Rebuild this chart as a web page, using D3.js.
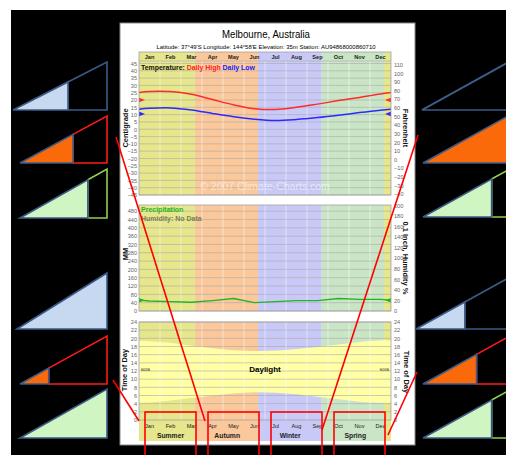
<!DOCTYPE html>
<html><head><meta charset="utf-8">
<script src="https://cdn.jsdelivr.net/npm/d3@7/dist/d3.min.js"></script>
<style>body{margin:0;background:#fff}svg{display:block;font-family:"Liberation Sans",Arial,sans-serif}</style>
</head><body>
<svg id="c" width="506" height="455"></svg>
<script>
// ---------------- data ----------------
const months = ["Jan","Feb","Mar","Apr","May","Jun","Jul","Aug","Sep","Oct","Nov","Dec"];
const seasonNames = ["Summer","Autumn","Winter","Spring","Summer"];
const seasonStart = [0, 2.67, 5.67, 8.7, 11.67];   // in months
const seasonEnd   = [2.67, 5.67, 8.7, 11.67, 12];
const seasonLabelAt = [1.5, 4.2, 7.2, 10.3];
const dailyHigh = [25.9, 25.8, 23.9, 20.3, 16.7, 14.1, 13.5, 15.0, 17.2, 19.6, 21.8, 24.2];
const dailyLow  = [14.3, 14.6, 13.2, 10.8, 8.6, 6.9, 6.0, 6.7, 8.0, 9.6, 11.4, 13.0];
const meanHighLow = [20.0, 10.5];
const precipMM = [48, 45, 42, 50, 60, 40, 45, 50, 50, 60, 56, 56];
const meanPrecip = [52];
const sunrise = [4.3, 4.8, 5.4, 6.0, 6.5, 6.8, 6.7, 6.3, 5.7, 5.1, 4.5, 4.2];
const sunset  = [19.3, 18.9, 18.2, 17.6, 17.1, 16.9, 17.0, 17.4, 17.9, 18.5, 19.1, 19.5];
const ticksC  = d3.range(-45, 50, 5);
const ticksF  = d3.range(-40, 120, 10);
const ticksMM = d3.range(0, 520, 40);
const ticksIn = d3.range(0, 220, 20);
const ticksHr = d3.range(0, 26, 2);
// side triangles: fill fraction of width
const leftFrac  = [0.585, 0.61, 0.78, 1, 0.33, 1];
const rightFrac = [0, 1, 0.73, 0.52, 0.57, 0.73];
const triFill = ["#c6d9f1","#fa6a0a","#cff5c2","#c6d9f1","#fa6a0a","#cff5c2"];
const triRest = ["#3b5b86","#ff1a1a","#92d050","#3b5b86","#ff1a1a","#92d050"];

// ---------------- layout ----------------
const svg = d3.select("#c");
const seasonColor = ["#e6e68c","#fbc89b","#c9c9f8","#c9e5c6","#e6e68c"];
const X0 = 139, X1 = 391;
const x = d3.scaleLinear().domain([0, 12]).range([X0, X1]);
const P1 = {top: 52, head: 61, bottom: 195};
const P2 = {top: 205, bottom: 311};
const P3 = {top: 322, bottom: 420, band: 441};
const yT = d3.scaleLinear().domain([-45, 45]).range([P1.bottom, 63.5]);
const yF = d3.scaleLinear().domain([-40, 113]).range([P1.bottom - 1, 62]);
const yP = d3.scaleLinear().domain([0, 500]).range([P2.bottom, P2.bottom - 104]);
const yI = d3.scaleLinear().domain([0, 200]).range([P2.bottom, P2.bottom - 104 * 508 / 500]);
const yD = d3.scaleLinear().domain([0, 24]).range([P3.bottom, P3.top]);

svg.append("rect").attr("x", 11).attr("y", 10).attr("width", 495).attr("height", 445).attr("fill", "#000");
svg.append("rect").attr("x", 120).attr("y", 23).attr("width", 295).attr("height", 422)
   .attr("fill", "#fff").attr("stroke", "#8a8a8a").attr("stroke-width", 1);

// side triangles
function tri(g, x0, yBase, w, h, frac, fill, rest) {
  const yAt = xx => yBase - h * (xx - x0) / w;
  const xf = x0 + w * frac;
  if (frac < 1) {
    g.append("polygon").attr("points", [[xf, yAt(xf)], [x0 + w, yBase - h], [x0 + w, yBase], [xf, yBase]].join(" "))
      .attr("fill", "none").attr("stroke", rest).attr("stroke-width", 1.6);
  }
  if (frac > 0) {
    g.append("polygon").attr("points", [[x0, yBase], [xf, yAt(xf)], [xf, yBase]].join(" "))
      .attr("fill", fill).attr("stroke", "#3b5b86").attr("stroke-width", 1.6);
  } else {
    g.append("polyline").attr("points", [[x0, yBase], [x0 + w, yBase - h]].join(" ") + " " + [x0, yBase].join(","))
      .attr("fill", "none").attr("stroke", "#3b5b86").attr("stroke-width", 1.6);
  }
}
const triG = svg.append("g");
const leftBase = [110, 163, 218, 329, 384, 438];
const leftX0 = [13, 20, 20, 17, 20, 20];
const leftH = [48, 47, 49, 56, 48, 49];
leftFrac.forEach((f, i) => tri(triG, leftX0[i], leftBase[i], 107 - leftX0[i], leftH[i], f, triFill[i], triRest[i]));
const rightBase = [110, 163, 217, 329, 384, 438];
const rightX0 = [422, 423, 423, 416, 423, 423];
const rg = triG.append("g").attr("clip-path", "url(#clipAll)");
svg.append("clipPath").attr("id", "clipAll").append("rect").attr("x", 0).attr("y", 0).attr("width", 506).attr("height", 455);
rightFrac.forEach((f, i) => tri(rg, rightX0[i], rightBase[i], 94, 52, f, triFill[i], triRest[i]));

// title
svg.append("text").attr("x", 266).attr("y", 38).attr("text-anchor", "middle").attr("font-size", 10.5)
   .attr("textLength", 88).attr("lengthAdjust", "spacingAndGlyphs").text("Melbourne,  Australia");
svg.append("text").attr("x", 266).attr("y", 48.5).attr("text-anchor", "middle").attr("font-size", 5.6)
   .attr("textLength", 219).attr("lengthAdjust", "spacingAndGlyphs")
   .text("Latitude: 37°49'S    Longitude: 144°58'E    Elevation: 35m    Station: AU94868000860710");

// helper: panel background
function panel(id, y0, y1) {
  const g = svg.append("g");
  svg.append("clipPath").attr("id", id).append("rect").attr("x", X0).attr("y", y0).attr("width", X1 - X0).attr("height", y1 - y0);
  seasonNames.forEach((s, i) => {
    g.append("rect").attr("x", x(seasonStart[i])).attr("y", y0).attr("width", x(seasonEnd[i]) - x(seasonStart[i]))
      .attr("height", y1 - y0).attr("fill", seasonColor[i]);
  });
  return g;
}
function grid(g, scale, ticks, y0, y1) {
  g.selectAll(null).data(ticks).enter().append("line")
    .attr("x1", X0).attr("x2", X1).attr("y1", d => scale(d)).attr("y2", d => scale(d))
    .attr("stroke", "#a8a8a8").attr("stroke-width", 0.6);
  g.selectAll(null).data(d3.range(1, 12)).enter().append("line")
    .attr("x1", d => x(d)).attr("x2", d => x(d)).attr("y1", y0).attr("y2", y1)
    .attr("stroke", "#ffffff").attr("stroke-opacity", 0.45).attr("stroke-width", 1);
}
function border(y0, y1) {
  svg.append("rect").attr("x", X0).attr("y", y0).attr("width", X1 - X0).attr("height", y1 - y0)
    .attr("fill", "none").attr("stroke", "#a0a0a0").attr("stroke-width", 0.8);
}
function axisLabels(scale, ticks, side, fmt) {
  const ax = (side === "left" ? d3.axisLeft(scale) : d3.axisRight(scale)).tickValues(ticks).tickSize(0).tickPadding(0)
    .tickFormat(fmt || (d => String(d).replace("-", "\u2212")));
  const g = svg.append("g").attr("transform", `translate(${side === "left" ? 137 : 394},0)`).call(ax);
  g.select(".domain").remove();
  g.selectAll("text").attr("font-size", 5.6).attr("fill", "#666").attr("font-family", "Liberation Sans, Arial");
}
function vTitle(text, xx, yy, rot) {
  svg.append("text").attr("transform", `translate(${xx},${yy}) rotate(${rot})`).attr("text-anchor", "middle")
    .attr("font-size", 7.5).attr("font-weight", "bold").attr("fill", "#111").text(text);
}
const wrapIdx = d3.range(-1, 13);
const wrap = arr => wrapIdx.map(i => ({m: i + 0.5, v: arr[(i + 12) % 12]}));

// ---------- Panel 1: temperature ----------
const g1 = panel("clip1", P1.top, P1.bottom);
grid(g1, yT, ticksC, P1.head, P1.bottom);
g1.append("line").attr("x1", X0).attr("x2", X1).attr("y1", P1.head).attr("y2", P1.head).attr("stroke", "#a8a8a8").attr("stroke-width", 0.6);
g1.selectAll(null).data(months).enter().append("text").attr("x", (d, i) => x(i + 0.5)).attr("y", 58.8)
  .attr("text-anchor", "middle").attr("font-size", 5.6).attr("font-weight", "bold").attr("fill", "#222").text(d => d);
svg.append("text").attr("x", 265).attr("y", 190).attr("text-anchor", "middle").attr("font-size", 10.5)
  .attr("fill", "#fff").attr("fill-opacity", 0.55).text("© 2007 Climate-Charts.com");
const lineT = d3.line().x(d => x(d.m)).y(d => yT(d.v)).curve(d3.curveCatmullRom);
const c1 = svg.append("g").attr("clip-path", "url(#clip1)");
c1.append("path").attr("d", lineT(wrap(dailyHigh))).attr("fill", "none").attr("stroke", "#ff2a2a").attr("stroke-width", 1.5);
c1.append("path").attr("d", lineT(wrap(dailyLow))).attr("fill", "none").attr("stroke", "#2a2aff").attr("stroke-width", 1.5);
function arrows(g, yy, color) {
  g.append("polygon").attr("points", [[X0, yy - 2.3], [X0 + 6, yy], [X0, yy + 2.3]].join(" ")).attr("fill", color);
  g.append("polygon").attr("points", [[X1, yy - 2.3], [X1 - 6, yy], [X1, yy + 2.3]].join(" ")).attr("fill", color);
}
arrows(svg, yT(meanHighLow[0]), "#ff2a2a");
arrows(svg, yT(meanHighLow[1]), "#2a2aff");
const leg = svg.append("text").attr("x", 141).attr("y", 70).attr("font-size", 7.2).attr("font-weight", "bold")
  .attr("textLength", 114).attr("lengthAdjust", "spacingAndGlyphs");
leg.append("tspan").attr("fill", "#111").text("Temperature: ");
leg.append("tspan").attr("fill", "#ff2020").text("Daily High ");
leg.append("tspan").attr("fill", "#2020ff").text("Daily Low");
border(P1.top, P1.bottom);
axisLabels(yT, ticksC, "left");
axisLabels(yF, ticksF, "right");
vTitle("Centigrade", 128, 128, -90);
vTitle("Fahrenheit", 403, 128, 90);

// ---------- Panel 2: precipitation ----------
const g2 = panel("clip2", P2.top, P2.bottom);
grid(g2, yP, ticksMM, P2.top, P2.bottom);
const lineP = d3.line().x(d => x(d.m)).y(d => yP(d.v));
svg.append("g").attr("clip-path", "url(#clip2)").append("path").attr("d", lineP(wrap(precipMM)))
  .attr("fill", "none").attr("stroke", "#22b422").attr("stroke-width", 1.3);
arrows(svg, yP(meanPrecip[0]), "#22b422");
svg.append("text").attr("x", 141).attr("y", 212).attr("font-size", 7).attr("font-weight", "bold").attr("fill", "#22b422").text("Precipitation");
svg.append("text").attr("x", 141).attr("y", 220.5).attr("font-size", 7).attr("font-weight", "bold").attr("fill", "#7d7d5a").text("Humidity: No Data");
border(P2.top, P2.bottom);
axisLabels(yP, ticksMM, "left");
axisLabels(yI, ticksIn, "right");
vTitle("MM", 128, 254, -90);
vTitle("0.1 Inch, Humidity %", 403, 258, 90);

// ---------- Panel 3: daylight ----------
const g3 = panel("clip3", P3.top, P3.band);
const dayData = wrapIdx.map(i => ({m: i + 0.5, r: sunrise[(i + 12) % 12], s: sunset[(i + 12) % 12]}));
svg.append("g").attr("clip-path", "url(#clip3)").append("path")
  .attr("d", d3.area().x(d => x(d.m)).y0(d => yD(d.r)).y1(d => yD(d.s)).curve(d3.curveCatmullRom)(dayData))
  .attr("fill", "#ffffa6");
svg.append("rect").attr("x", X0).attr("y", P3.bottom).attr("width", X1 - X0).attr("height", P3.band - P3.bottom).attr("fill", "none");
const g3b = svg.append("g");
grid(g3b, yD, ticksHr.slice(1), P3.top, P3.bottom);
border(P3.top, P3.bottom);
axisLabels(yD, ticksHr, "left");
axisLabels(yD, ticksHr, "right");
vTitle("Time of Day", 127, 370, -90);
vTitle("Time of Day", 404, 372, 90);
svg.append("text").attr("x", 265).attr("y", 372).attr("text-anchor", "middle").attr("font-size", 8).attr("font-weight", "bold").text("Daylight");
svg.append("text").attr("x", 141).attr("y", 371).attr("font-size", 3.8).attr("font-family", "DejaVu Sans Mono").attr("fill", "#333").text("NOON");
svg.append("text").attr("x", 389).attr("y", 371).attr("text-anchor", "end").attr("font-size", 3.8).attr("font-family", "DejaVu Sans Mono").attr("fill", "#333").text("NOON");
svg.selectAll(null).data(months).enter().append("text").attr("x", (d, i) => x(i + 0.5)).attr("y", 428)
  .attr("text-anchor", "middle").attr("font-size", 5.6).attr("fill", "#222").text(d => d);
svg.selectAll(null).data(seasonNames.slice(0, 4)).enter().append("text").attr("x", (d, i) => x(seasonLabelAt[i])).attr("y", 438)
  .attr("text-anchor", "middle").attr("font-size", 6.8).attr("font-weight", "bold").attr("fill", "#222").text(d => d);

// ---------- red annotation overlay ----------
const red = svg.append("g").attr("stroke", "#ff0000").attr("stroke-width", 1.6).attr("fill", "none");
[[0, 3], [3, 6], [6, 9], [9, 12]].forEach(q => {
  red.append("rect").attr("x", x(q[0]) + 6).attr("y", 412).attr("width", x(q[1]) - x(q[0]) - 12).attr("height", 60);
});
const connectors = [[[116, 137], [205, 421]], [[113, 380], [139, 421]], [[418, 135], [322, 430]], [[417, 372], [388, 435]]];
connectors.forEach(c => red.append("line").attr("x1", c[0][0]).attr("y1", c[0][1]).attr("x2", c[1][0]).attr("y2", c[1][1]));
</script>
</body></html>
